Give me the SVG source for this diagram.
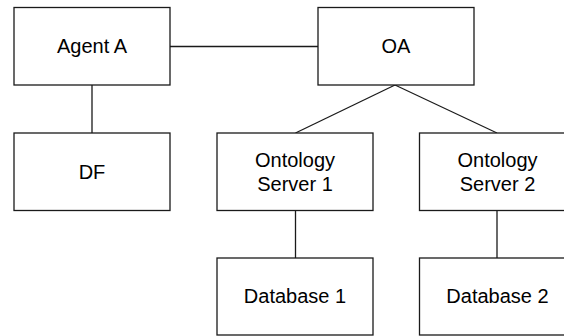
<svg xmlns="http://www.w3.org/2000/svg" width="564" height="336" viewBox="0 0 564 336">
  <style>
    .box { fill: #ffffff; stroke: #1a1a1a; stroke-width: 1.3; }
    .lbl { font-family: "Liberation Sans", Arial, sans-serif; font-size: 20px; fill: #000; text-anchor: middle; }
    .edge { stroke: #1a1a1a; stroke-width: 1.3; fill: none; }
  </style>
  <rect x="0" y="0" width="564" height="336" fill="#ffffff"/>

  <g id="connectors">
    <line class="edge" x1="170" y1="46.5" x2="318" y2="46.5"/>
    <line class="edge" x1="92" y1="85" x2="92" y2="133"/>
    <line class="edge" x1="395" y1="85" x2="295.5" y2="133"/>
    <line class="edge" x1="395" y1="85" x2="497" y2="133"/>
    <line class="edge" x1="295.5" y1="210" x2="295.5" y2="258"/>
    <line class="edge" x1="497" y1="210" x2="497" y2="258"/>
  </g>

  <g id="agent-a">
    <rect class="box" x="14" y="7.5" width="156" height="77.5"/>
    <text class="lbl" x="92" y="53">Agent A</text>
  </g>

  <g id="oa">
    <rect class="box" x="318" y="7.5" width="156" height="77.5"/>
    <text class="lbl" x="396" y="53">OA</text>
  </g>

  <g id="df">
    <rect class="box" x="14" y="133" width="156" height="77.5"/>
    <text class="lbl" x="92" y="178.5">DF</text>
  </g>

  <g id="ontology-server-1">
    <rect class="box" x="217" y="133" width="156" height="77.5"/>
    <text class="lbl" x="295" y="167">Ontology</text>
    <text class="lbl" x="295" y="191">Server 1</text>
  </g>

  <g id="ontology-server-2">
    <rect class="box" x="419.5" y="133" width="156" height="77.5"/>
    <text class="lbl" x="497.5" y="167">Ontology</text>
    <text class="lbl" x="497.5" y="191">Server 2</text>
  </g>

  <g id="database-1">
    <rect class="box" x="217" y="258" width="156" height="77"/>
    <text class="lbl" x="295" y="303">Database 1</text>
  </g>

  <g id="database-2">
    <rect class="box" x="419.5" y="258" width="156" height="77"/>
    <text class="lbl" x="497.5" y="303">Database 2</text>
  </g>
</svg>
